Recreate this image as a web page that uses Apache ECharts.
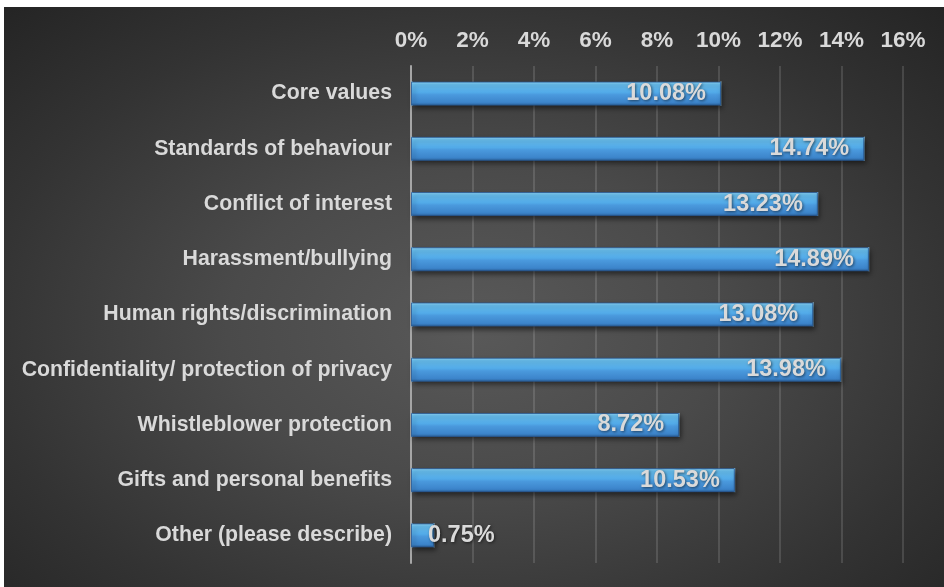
<!DOCTYPE html>
<html>
<head>
<meta charset="utf-8">
<script src="https://cdn.jsdelivr.net/npm/echarts@6/dist/echarts.min.js"></script>
<style>
  html, body { margin: 0; padding: 0; background: #ffffff; width: 944px; height: 587px; overflow: hidden; }
  #chart {
    position: absolute; left: 4px; top: 7px; width: 940px; height: 580px;
    background: radial-gradient(ellipse 75% 80% at 50% 55%, #595959 0%, #4a4a4a 35%, #333333 70%, #222222 100%);
  }
</style>
</head>
<body>
<div id="chart"></div>
<script>
const categories = [
  'Core values',
  'Standards of behaviour',
  'Conflict of interest',
  'Harassment/bullying',
  'Human rights/discrimination',
  'Confidentiality/ protection of privacy',
  'Whistleblower protection',
  'Gifts and personal benefits',
  'Other (please describe)'
];
const values = [10.08, 14.74, 13.23, 14.89, 13.08, 13.98, 8.72, 10.53, 0.75];
const tickValues = [0, 2, 4, 6, 8, 10, 12, 14, 16];

const chart = echarts.init(document.getElementById('chart'), null, { renderer: 'canvas' });

const barColor = new echarts.graphic.LinearGradient(0, 0, 0, 1, [
  { offset: 0, color: '#93d8f9' },
  { offset: 0.12, color: '#69c0f0' },
  { offset: 0.45, color: '#52aae8' },
  { offset: 0.55, color: '#4a99dd' },
  { offset: 0.88, color: '#3c84ca' },
  { offset: 1, color: '#2a5f98' }
]);

const seriesData = values.map((v, i) => {
  const item = { value: v };
  if (v < 3) {
    item.label = { position: 'insideLeft', distance: 17 };
  }
  return item;
});

const BAR_W = 24;

function renderBevel(params, api) {
  const idx = api.value(0);
  const val = api.value(1);
  const start = api.coord([0, idx]);
  const end = api.coord([val, idx]);
  const half = BAR_W / 2;
  const y0 = start[1] - half, y1 = start[1] + half, ym = start[1];
  const x0 = start[0] + 1, x1 = end[0];
  const b = Math.min(half, (x1 - x0) / 2);
  const facet = new echarts.graphic.LinearGradient(0, 0, 0, 1, [
    { offset: 0, color: 'rgba(120,200,245,0.9)' },
    { offset: 0.5, color: 'rgba(70,150,220,0.9)' },
    { offset: 1, color: 'rgba(45,105,170,0.9)' }
  ]);
  return {
    type: 'group',
    children: [
      { type: 'polygon', shape: { points: [[x1, y0], [x1 - b, ym], [x1, y1]] },
        style: { fill: facet, stroke: 'rgba(160,220,250,0.5)', lineWidth: 0.8 } },
      { type: 'polygon', shape: { points: [[x0, y0], [x0 + b, ym], [x0, y1]] },
        style: { fill: facet, stroke: 'rgba(160,220,250,0.5)', lineWidth: 0.8 } }
    ]
  };
}

chart.setOption({
  backgroundColor: 'transparent',
  animation: false,
  grid: { left: 407, right: 41, top: 59, bottom: 24, containLabel: false },
  xAxis: {
    type: 'value',
    position: 'top',
    min: tickValues[0],
    max: tickValues[tickValues.length - 1],
    interval: 2,
    axisLine: { show: false },
    axisTick: { show: false },
    axisLabel: {
      margin: 14,
      color: '#d9d9d9',
      fontFamily: 'Liberation Sans, Arial, sans-serif',
      fontWeight: 'bold',
      fontSize: 22.5,
      formatter: v => v + '%'
    },
    splitLine: { show: true, lineStyle: { color: 'rgba(255,255,255,0.13)', width: 2 } }
  },
  yAxis: {
    type: 'category',
    data: categories,
    inverse: true,
    axisLine: { show: true, lineStyle: { color: '#a6a6a6', width: 2 } },
    axisTick: { show: false },
    axisLabel: {
      margin: 19,
      color: '#d9d9d9',
      fontFamily: 'Liberation Sans, Arial, sans-serif',
      fontWeight: 'bold',
      fontSize: 21.3
    },
    splitLine: { show: false }
  },
  series: [{
    type: 'bar',
    data: seriesData,
    barWidth: BAR_W,
    z: 3,
    itemStyle: {
      color: barColor,
      borderColor: 'rgba(40,90,150,0.8)',
      borderWidth: 1,
      shadowColor: 'rgba(0,0,0,0.55)',
      shadowBlur: 5,
      shadowOffsetX: 2,
      shadowOffsetY: 3
    },
    label: {
      show: true,
      position: 'insideRight',
      distance: 15,
      color: '#dadada',
      fontFamily: 'Liberation Sans, Arial, sans-serif',
      fontWeight: 'bold',
      fontSize: 23.5,
      textShadowColor: 'rgba(0,0,0,0.55)',
      textShadowBlur: 3,
      textShadowOffsetX: 1,
      textShadowOffsetY: 1,
      formatter: p => p.value.toFixed(2) + '%'
    }
  }, {
    type: 'custom',
    z: 4,
    silent: true,
    renderItem: renderBevel,
    encode: { x: 1, y: 0 },
    data: values.map((v, i) => [i, v]),
    zlevel: 0
  }]
});
// keep labels on top of bevel facets
chart.setOption({ series: [{ label: { } , z: 3 }, { z: 3 }] });
</script>
</body>
</html>
